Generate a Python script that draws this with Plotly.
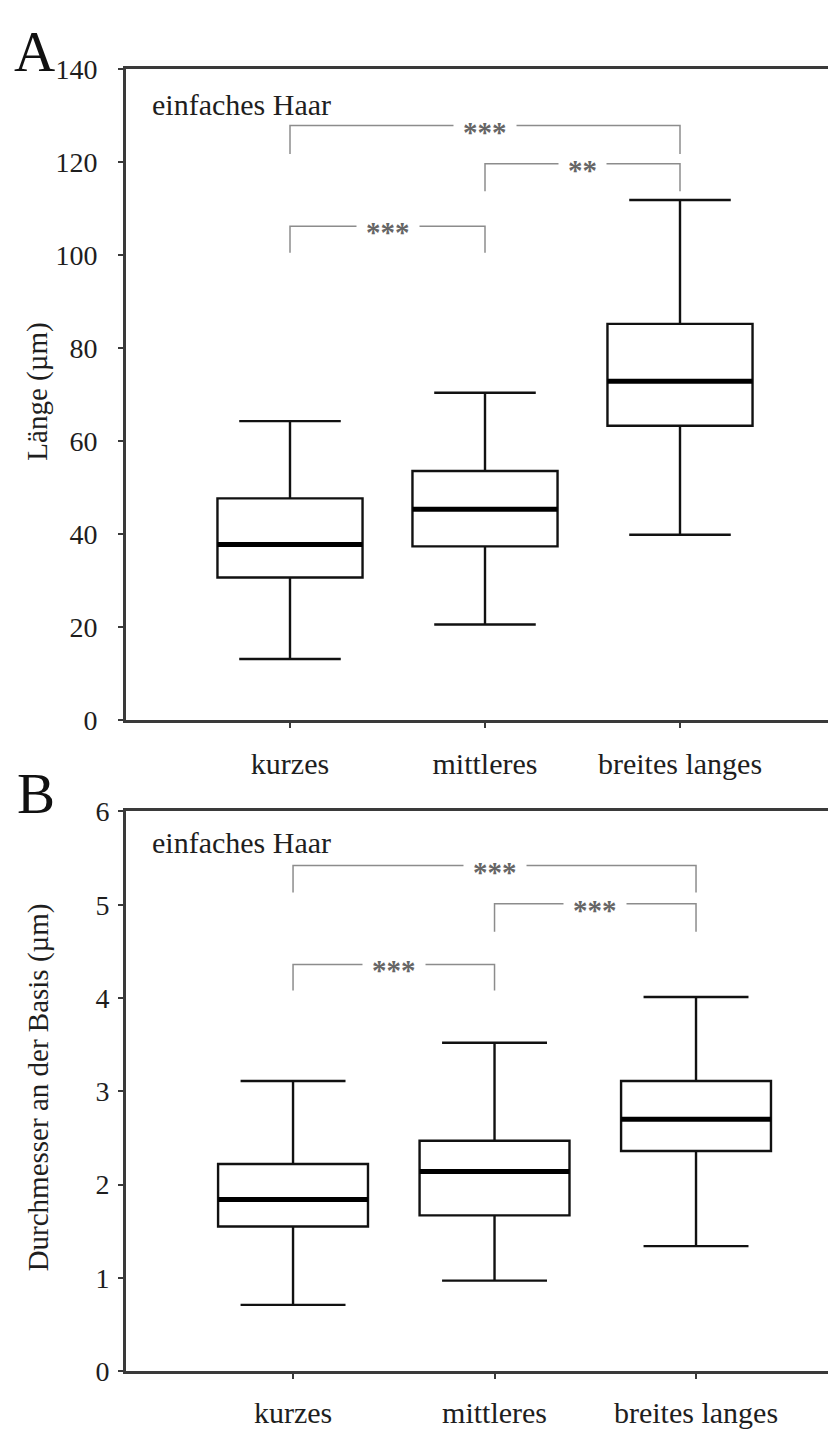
import plotly.graph_objects as go

# ---- data ----------------------------------------------------------------
categories = ["kurzes", "mittleres", "breites langes"]

# Panel A: Länge (µm)
len_low = [13.2, 20.6, 39.9]
len_q1 = [30.7, 37.4, 63.3]
len_med = [37.8, 45.4, 72.9]
len_q3 = [47.7, 53.6, 85.2]
len_high = [64.3, 70.4, 111.8]

# Panel B: Durchmesser an der Basis (µm)
dia_low = [0.71, 0.97, 1.34]
dia_q1 = [1.55, 1.67, 2.36]
dia_med = [1.84, 2.14, 2.70]
dia_q3 = [2.22, 2.47, 3.11]
dia_high = [3.11, 3.52, 4.01]

# significance brackets: (from index, to index, bar level, leg end, label)
sig_len = [(0, 2, 127.8, 121.7, "***"),
           (1, 2, 119.6, 113.7, "**"),
           (0, 1, 106.2, 100.5, "***")]
sig_dia = [(0, 2, 5.42, 5.13, "***"),
           (1, 2, 5.01, 4.71, "***"),
           (0, 1, 4.36, 4.08, "***")]

# ---- styling -------------------------------------------------------------
W, H = 828, 1437
FONT = "Liberation Serif"
BOX_W = 0.744
AXIS_COL = "#3a3a3a"
TEXT_COL = "#1e1e1e"
BRACKET_COL = "#8c8c8c"

fig = go.Figure()


def add_panel(xa, ya, low, q1, med, q3, high):
    xs = list(range(len(categories)))
    fig.add_trace(go.Box(
        x=xs, q1=q1, median=med, q3=q3, lowerfence=low, upperfence=high,
        width=BOX_W, whiskerwidth=0.7, boxpoints=False,
        line=dict(color="#111111", width=2.4), fillcolor="white",
        xaxis=xa, yaxis=ya, hoverinfo="skip", showlegend=False))
    # bold median bars
    mx, my = [], []
    for i, m in enumerate(med):
        mx += [i - BOX_W / 2, i + BOX_W / 2, None]
        my += [m, m, None]
    fig.add_trace(go.Scatter(
        x=mx, y=my, mode="lines", line=dict(color="black", width=5),
        xaxis=xa, yaxis=ya, hoverinfo="skip", showlegend=False))


add_panel("x", "y", len_low, len_q1, len_med, len_q3, len_high)
add_panel("x2", "y2", dia_low, dia_q1, dia_med, dia_q3, dia_high)


def add_brackets(xref, yref, sigs):
    for a, b, level, leg, label in sigs:
        fig.add_shape(type="path",
                      path=f"M {a},{leg} L {a},{level} L {b},{level} L {b},{leg}",
                      xref=xref, yref=yref,
                      line=dict(color=BRACKET_COL, width=1.5))
        fig.add_annotation(x=(a + b) / 2, y=level, xref=xref, yref=yref,
                           text=f"<b>{label}</b>", showarrow=False, bgcolor="white",
                           borderpad=9, yshift=-6,
                           font=dict(family=FONT, size=29, color="#666666"))


add_brackets("x", "y", sig_len)
add_brackets("x2", "y2", sig_dia)

# panel domains (paper fractions)
xdom = [126 / W, 1.0]
ydom_a = [1 - 721 / H, 1 - 55 / H]
ydom_b = [1 - 1386 / H, 1 - 814 / H]

common_x = dict(showline=True, linewidth=3, linecolor=AXIS_COL, mirror=True,
                ticks="outside", ticklen=5, tickwidth=2, tickcolor=AXIS_COL,
                tickvals=[0, 1, 2], ticktext=categories, showgrid=False,
                zeroline=False, tickfont=dict(family=FONT, size=30, color=TEXT_COL))
common_y = dict(showline=True, linewidth=3, linecolor=AXIS_COL,
                ticks="outside", ticklen=5, tickwidth=2, tickcolor=AXIS_COL,
                showgrid=False, zeroline=False,
                tickfont=dict(family=FONT, size=28, color=TEXT_COL))

fig.update_layout(
    width=W, height=H, margin=dict(l=0, r=0, t=0, b=0),
    paper_bgcolor="white", plot_bgcolor="white",
    xaxis=dict(common_x, domain=xdom, anchor="y", range=[-0.841, 2.759],
               ticklabelstandoff=10),
    yaxis=dict(common_y, domain=ydom_a, anchor="x", range=[0, 140],
               tickvals=list(range(0, 141, 20)), ticklabelstandoff=15),
    xaxis2=dict(common_x, domain=xdom, anchor="y2", range=[-0.829, 2.655],
                ticklabelstandoff=8),
    yaxis2=dict(common_y, domain=ydom_b, anchor="x2", range=[0, 6],
                tickvals=list(range(0, 7)), ticklabelstandoff=3),
)

# axis titles, panel letters and inset labels
texts = [
    dict(x=38, y=385, text="Länge (µm)", size=29),
    dict(x=38, y=1096, text="Durchmesser an der Basis (µm)", size=29),
]
for t in texts:
    fig.add_annotation(x=t["x"] / W, y=1 - t["y"] / H, xref="paper", yref="paper",
                       text=t["text"], textangle=-90, showarrow=False,
                       xanchor="center", yanchor="middle",
                       font=dict(family=FONT, size=t["size"], color=TEXT_COL))

for letter, x, y in [("A", 12, 37), ("B", 15, 796)]:
    fig.add_annotation(x=x / W, y=1 - y / H, xref="paper", yref="paper",
                       text=letter, showarrow=False, xanchor="left", yanchor="middle",
                       font=dict(family=FONT, size=57, color="#111111"))

for y in [91, 846]:
    fig.add_annotation(x=150 / W, y=1 - y / H, xref="paper", yref="paper",
                       text="einfaches Haar", showarrow=False,
                       xanchor="left", yanchor="middle",
                       font=dict(family=FONT, size=30, color=TEXT_COL))

fig.write_html("out.html")
